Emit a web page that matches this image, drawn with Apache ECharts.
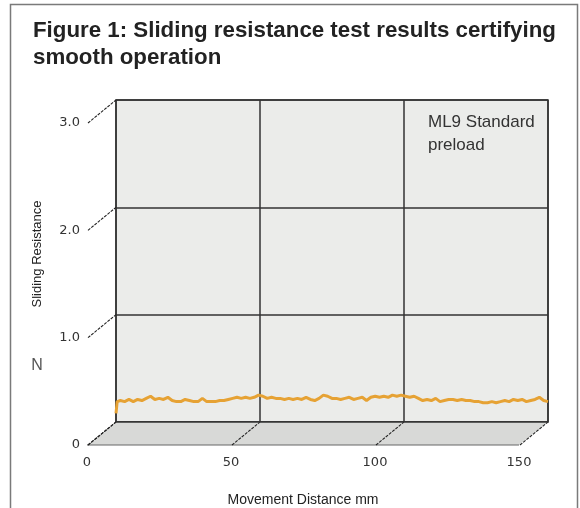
<!DOCTYPE html>
<html>
<head>
<meta charset="utf-8">
<script src="https://cdn.jsdelivr.net/npm/echarts@6/dist/echarts.min.js"></script>
<style>html,body{margin:0;padding:0;background:#fff}#c{width:580px;height:508px}</style>
</head>
<body>
<div id="c"></div>
<script>
// ---- data ----
var distance = [0,0.4,1.5,3,4.5,6,7.5,9,10.5,12,13.5,15,16.5,18,19.5,21,22.5,24,25.5,27,28.5,30,31.5,33,34.5,36,37.5,39,40.5,42,43.5,45,46.5,48,49.5,51,52.5,54,55.5,57,58.5,60,61.5,63,64.5,66,67.5,69,70.5,72,73.5,75,76.5,78,79.5,81,82.5,84,85.5,87,88.5,90,91.5,93,94.5,96,97.5,99,100.5,102,103.5,105,106.5,108,109.5,111,112.5,114,115.5,117,118.5,120,121.5,123,124.5,126,127.5,129,130.5,132,133.5,135,136.5,138,139.5,141,142.5,144,145.5,147,148.5,150];
var resistance = [0.08,0.19,0.20,0.19,0.21,0.19,0.21,0.20,0.22,0.24,0.21,0.22,0.21,0.23,0.20,0.19,0.19,0.21,0.20,0.19,0.19,0.22,0.19,0.19,0.19,0.20,0.20,0.21,0.22,0.23,0.22,0.23,0.22,0.23,0.25,0.24,0.22,0.23,0.22,0.22,0.21,0.22,0.21,0.22,0.21,0.23,0.21,0.20,0.22,0.25,0.24,0.22,0.22,0.21,0.22,0.23,0.21,0.22,0.23,0.20,0.23,0.24,0.23,0.24,0.23,0.25,0.24,0.25,0.24,0.23,0.24,0.22,0.20,0.21,0.20,0.22,0.19,0.20,0.21,0.21,0.20,0.21,0.20,0.20,0.19,0.19,0.18,0.18,0.19,0.18,0.19,0.20,0.19,0.21,0.20,0.21,0.19,0.20,0.21,0.23,0.20,0.19];
var xTicks = [0, 50, 100, 150];
var yTicks = [0, 1, 2, 3];
var titleText = 'Figure 1: Sliding resistance test results certifying\nsmooth operation';
var seriesLabel = 'ML9 Standard\npreload';
var xName = 'Movement Distance mm';
var yName = 'Sliding Resistance';
var unitName = 'N';

// ---- layout ----
var BACK = {left: 116, top: 100, width: 432, height: 322};
var DX = -29, DY = 23; // depth offset from back wall to front plane
var FRONT = {left: BACK.left + DX, top: BACK.top + DY, width: BACK.width, height: BACK.height};

var chart = echarts.init(document.getElementById('c'), null, {renderer: 'canvas'});
var lineDark = '#333';

var pairs = distance.map(function (d, i) { return [d, resistance[i]]; });

chart.setOption({
  animation: false,
  title: {
    text: titleText, left: 28, top: 12,
    textStyle: {fontFamily: 'Liberation Sans', fontSize: 22.3, fontWeight: 'bold', color: '#222', lineHeight: 27}
  },
  grid: [
    {left: BACK.left, top: BACK.top, width: BACK.width, height: BACK.height, show: true,
     outerBoundsMode: 'none', containLabel: false,
     backgroundColor: '#ebecea', borderColor: lineDark, borderWidth: 1.5},
    {left: FRONT.left, top: FRONT.top, width: FRONT.width, height: FRONT.height, show: false,
     outerBoundsMode: 'none', containLabel: false}
  ],
  xAxis: [
    {gridIndex: 0, type: 'value', min: 0, max: 150, interval: 50,
     axisLine: {show: false}, axisTick: {show: false}, axisLabel: {show: false},
     splitLine: {show: true, lineStyle: {color: lineDark, width: 1.5}}},
    {gridIndex: 1, type: 'value', min: 0, max: 150, interval: 50,
     axisLine: {show: false}, axisTick: {show: false}, splitLine: {show: false},
     axisLabel: {show: true, margin: 11, color: '#333', fontFamily: 'DejaVu Sans', fontSize: 13,
                 showMinLabel: true, showMaxLabel: true},
     name: xName, nameLocation: 'middle', nameGap: 48,
     nameTextStyle: {fontFamily: 'Liberation Sans', fontSize: 14, color: '#222'}}
  ],
  yAxis: [
    {gridIndex: 0, type: 'value', min: 0, max: 3, interval: 1,
     axisLine: {show: false}, axisTick: {show: false}, axisLabel: {show: false},
     splitLine: {show: true, lineStyle: {color: lineDark, width: 1.5}}},
    {gridIndex: 1, type: 'value', min: 0, max: 3, interval: 1,
     axisLine: {show: false}, axisTick: {show: false}, splitLine: {show: false},
     axisLabel: {show: true, margin: 7, color: '#333', fontFamily: 'DejaVu Sans', fontSize: 13,
                 formatter: function (v) { return v === 0 ? '0' : v.toFixed(1); }}}
  ],
  graphic: [
    {type: 'rect', shape: {x: 10.5, y: 4.5, width: 567, height: 530}, silent: true,
     style: {fill: 'none', stroke: '#7a7a7a', lineWidth: 1.5}, z: 100},
    {type: 'text', left: 428, top: 111, silent: true,
     style: {text: seriesLabel, fontFamily: 'Liberation Sans', fontSize: 17, lineHeight: 23, fill: '#333'}},
    {type: 'text', x: 37, y: 254, rotation: Math.PI / 2, silent: true,
     style: {text: yName, fontFamily: 'Liberation Sans', fontSize: 13, fill: '#222', align: 'center', verticalAlign: 'middle'}},
    {type: 'text', x: 37, y: 366, silent: true,
     style: {text: unitName, fontFamily: 'Liberation Sans', fontSize: 16, fill: '#555', align: 'center', verticalAlign: 'middle'}}
  ],
  series: [
    {
      type: 'custom', xAxisIndex: 1, yAxisIndex: 1, silent: true, z: 1,
      data: [0],
      renderItem: function (params, api) {
        var fl = api.coord([0, 0]), fr = api.coord([150, 0]);
        var children = [];
        children.push({type: 'polygon', shape: {points: [fl, fr, [fr[0] - DX, fr[1] - DY], [fl[0] - DX, fl[1] - DY]]},
          style: {fill: '#d8d9d7', stroke: null}});
        children.push({type: 'line', shape: {x1: fl[0], y1: fl[1], x2: fr[0], y2: fr[1]},
          style: {stroke: '#666', lineWidth: 1}});
        xTicks.forEach(function (t) {
          var p = api.coord([t, 0]);
          children.push({type: 'line', shape: {x1: p[0] + 1, y1: p[1], x2: p[0] - DX, y2: p[1] - DY},
            style: {stroke: '#222', lineWidth: 1.1, lineDash: [3, 1.2]}});
        });
        yTicks.forEach(function (t) {
          var p = api.coord([0, t]);
          children.push({type: 'line', shape: {x1: p[0] + 1, y1: p[1], x2: p[0] - DX, y2: p[1] - DY},
            style: {stroke: '#222', lineWidth: 1.1, lineDash: [3, 1.2]}});
        });
        children.push({type: 'line', shape: {x1: fl[0] - DX, y1: fl[1] - DY, x2: fr[0] - DX, y2: fr[1] - DY},
          style: {stroke: lineDark, lineWidth: 1.5}});
        return {type: 'group', children: children};
      }
    },
    {
      type: 'line', xAxisIndex: 0, yAxisIndex: 0, data: pairs, showSymbol: false, z: 5,
      lineStyle: {color: '#e6a234', width: 3}
    }
  ]
});
</script>
</body>
</html>
